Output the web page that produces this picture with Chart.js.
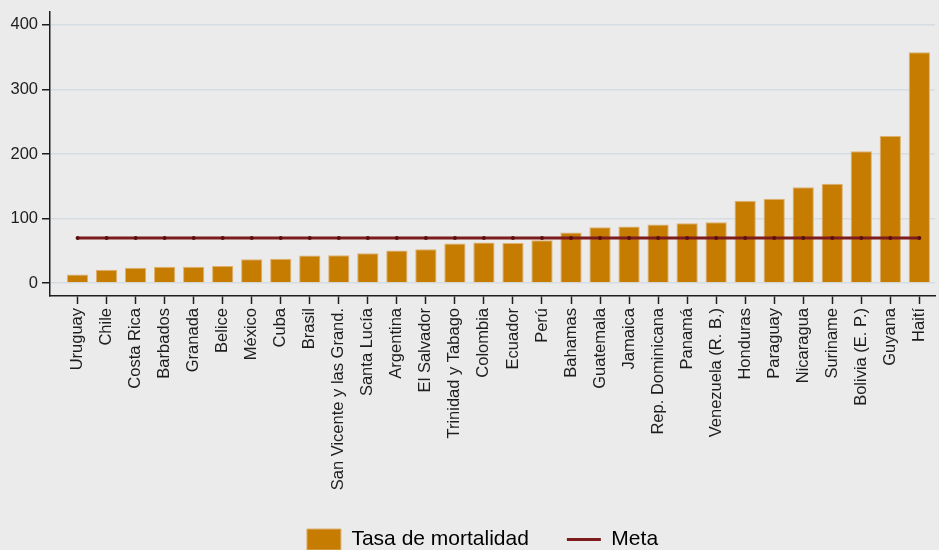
<!DOCTYPE html>
<html>
<head>
<meta charset="utf-8">
<script src="https://cdn.jsdelivr.net/npm/chart.js@4"></script>
<style>
  html, body { margin: 0; padding: 0; background: #ebebeb; }
  #wrap { width: 939px; height: 550px; position: relative; }
</style>
</head>
<body>
<div id="wrap"><canvas id="mortChart"></canvas></div>
<script>
// categories (sorted by rate)
const countries = ["Uruguay", "Chile", "Costa Rica", "Barbados", "Granada", "Belice", "México", "Cuba", "Brasil",
  "San Vicente y las Grand.", "Santa Lucía", "Argentina", "El Salvador", "Trinidad y Tabago", "Colombia", "Ecuador",
  "Perú", "Bahamas", "Guatemala", "Jamaica", "Rep. Dominicana", "Panamá", "Venezuela (R. B.)", "Honduras",
  "Paraguay", "Nicaragua", "Suriname", "Bolivia (E. P.)", "Guyana", "Haití"];

// Tasa de mortalidad
const tasa = [13.4, 20.6, 23.7, 25.2, 25.2, 26.3, 37.0, 37.6, 42.8, 43.2, 46.3, 50.5, 52.5, 61.3, 62.8,
  62.3, 66.4, 78.2, 86.5, 87.5, 90.6, 92.7, 94.2, 127.7, 130.8, 148.3, 153.9, 204.4, 228.0, 357.8];

// Meta
const meta = [70, 70, 70, 70, 70, 70, 70, 70, 70, 70, 70, 70, 70, 70, 70,
  70, 70, 70, 70, 70, 70, 70, 70, 70, 70, 70, 70, 70, 70, 70];

const yTicks = [0, 100, 200, 300, 400];

const barColor = '#c67c00';
const barEdge = '#ddb170';
const metaColor = '#7d1c1c';
const inkColor = '#1e1e1e';
const fontFamily = "'Liberation Sans', Arial, Helvetica, sans-serif";

// nudge the legend a bit to the right, like the original
const legendShift = {
  id: 'legendShift',
  afterLayout(chart) {
    chart.legend.left += 13;
    chart.legend.right += 13;
  }
};

document.addEventListener('DOMContentLoaded', function () {
  const ctx = document.getElementById('mortChart').getContext('2d');

  new Chart(ctx, {
    type: 'bar',
    data: {
      datasets: [
        {
          label: 'Tasa de mortalidad',
          data: tasa.map((v, i) => ({ x: i, y: v })),
          backgroundColor: barColor,
          borderColor: barEdge,
          borderWidth: 1,
          categoryPercentage: 0.8,
          barPercentage: 0.915,
          order: 1
        },
        {
          type: 'line',
          label: 'Meta',
          data: meta.map((v, i) => ({ x: i, y: v })),
          borderColor: metaColor,
          borderWidth: 3,
          pointRadius: 2,
          pointBackgroundColor: '#5a0f0f',
          pointBorderWidth: 0,
          fill: false,
          order: 0
        }
      ]
    },
    options: {
      responsive: true,
      maintainAspectRatio: false,
      animation: false,
      layout: {
        padding: { left: 0, right: 0, top: 12, bottom: -10 }
      },
      plugins: {
        tooltip: { enabled: false },
        legend: {
          position: 'bottom',
          labels: {
            usePointStyle: true,
            pointStyleWidth: 34,
            padding: 38,
            color: inkColor,
            font: { family: fontFamily, size: 21 },
            generateLabels: function () {
              return [
                { text: 'Tasa de mortalidad', fillStyle: barColor, strokeStyle: barEdge, lineWidth: 1, pointStyle: 'rect', datasetIndex: 0, hidden: false },
                { text: 'Meta', fillStyle: metaColor, strokeStyle: metaColor, lineWidth: 3, pointStyle: 'line', datasetIndex: 1, hidden: false }
              ];
            }
          }
        }
      },
      scales: {
        x: {
          type: 'linear',
          offset: false,
          min: -0.95,
          max: 29.54,
          afterBuildTicks: (scale) => {
            scale.ticks = countries.map((c, i) => ({ value: i }));
          },
          afterFit: (scale) => {
            scale.height = 195;
            scale.paddingLeft = 0;
            scale.paddingRight = 0;
          },
          grid: {
            offset: false,
            drawOnChartArea: false,
            drawTicks: true,
            tickLength: 8,
            tickColor: inkColor,
            tickWidth: 1.5
          },
          border: { display: true, color: inkColor, width: 1.5 },
          ticks: {
            autoSkip: false,
            minRotation: 90,
            maxRotation: 90,
            padding: 4,
            color: inkColor,
            font: { family: fontFamily, size: 16.5 },
            callback: (value) => countries[value]
          }
        },
        y: {
          min: -20,
          max: 420,
          afterBuildTicks: (scale) => {
            scale.ticks = yTicks.map(v => ({ value: v }));
          },
          afterFit: (scale) => {
            scale.width = 50;
            scale.paddingTop = 0;
            scale.paddingBottom = 0;
          },
          grid: {
            color: '#d6dde2',
            lineWidth: 1.5,
            drawTicks: true,
            tickLength: 8,
            tickColor: inkColor,
            tickWidth: 1.5
          },
          border: { display: true, color: inkColor, width: 1.5 },
          ticks: {
            padding: 4,
            color: inkColor,
            font: { family: fontFamily, size: 16.5 }
          }
        }
      }
    },
    plugins: [legendShift]
  });
});
</script>
</body>
</html>
